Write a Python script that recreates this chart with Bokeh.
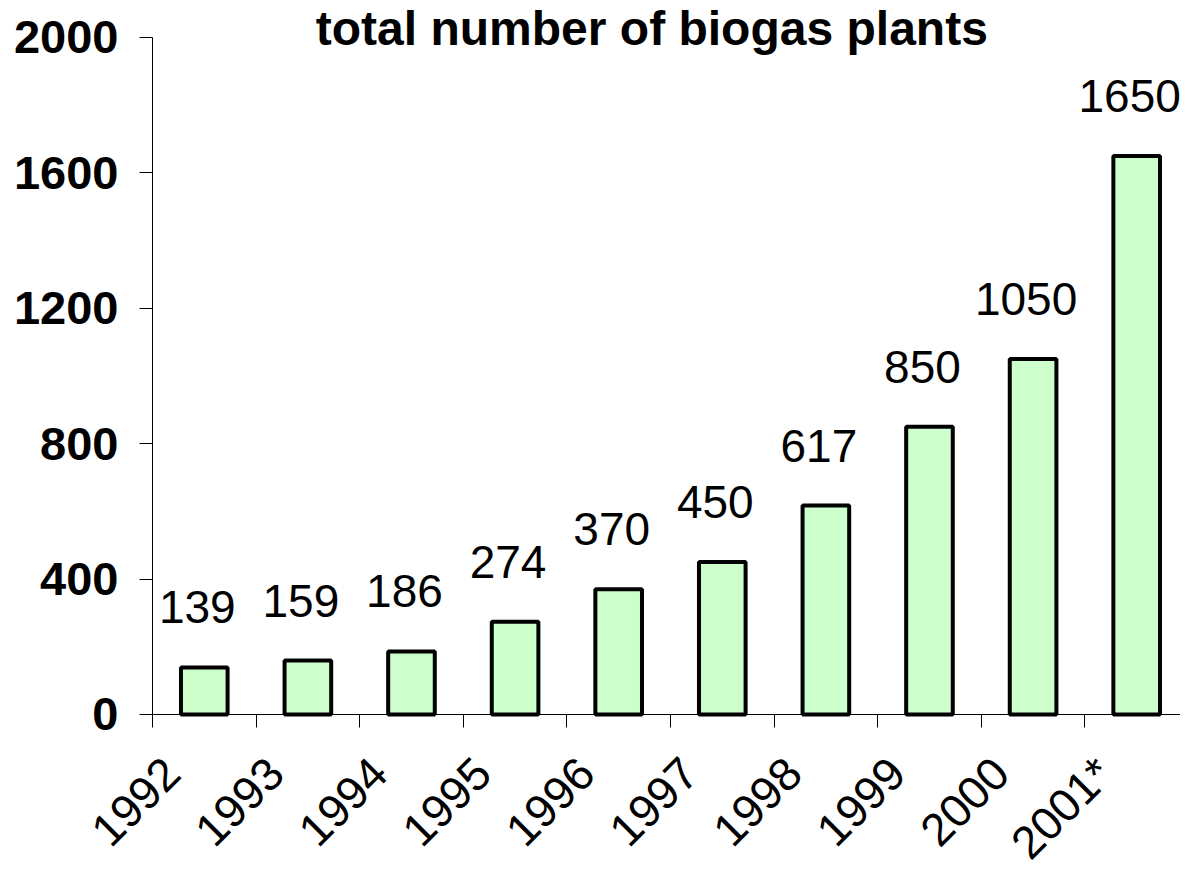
import numpy as np
from bokeh.plotting import figure
from bokeh.models import Range1d, FixedTicker, ColumnDataSource, LabelSet, Label
from bokeh.core.properties import value
from bokeh.embed import file_html
from bokeh.resources import INLINE

# ---- data ----
years = ["1992", "1993", "1994", "1995", "1996", "1997", "1998", "1999", "2000", "2001*"]
plants = [139, 159, 186, 274, 370, 450, 617, 850, 1050, 1650]
y_ticks = [0, 400, 800, 1200, 1600, 2000]
title_text = "total number of biogas plants"

FONT = "Liberation Sans"
n = len(years)
centers = [i + 0.5 for i in range(n)]
label_pos = [i + 0.1875 for i in range(n)]
boundaries = list(range(n + 1))

# the frame covers the whole canvas; both axes are drawn at data 0 inside it
p = figure(width=1180, height=870, output_backend="svg", toolbar_location=None,
           x_range=Range1d(-1.467, 9.923), y_range=Range1d(-461, 2109),
           min_border_left=0, min_border_right=0, min_border_top=0,
           min_border_bottom=0)
p.title.visible = False
p.outline_line_color = None
p.xgrid.visible = False
p.ygrid.visible = False
p.background_fill_color = "white"
p.border_fill_color = "white"

# x axis: ticks at category boundaries, labels rotated
xa = p.xaxis[0]
xa.ticker = FixedTicker(ticks=label_pos, minor_ticks=boundaries)
xa.major_label_overrides = {pos: yr for pos, yr in zip(label_pos, years)}
xa.major_label_orientation = np.pi / 4
xa.bounds = (0, n)
xa.major_tick_out = 0
xa.major_tick_in = 0
xa.major_tick_line_color = None
xa.minor_tick_out = 13
xa.minor_tick_in = 0
xa.minor_tick_line_color = "black"
xa.axis_line_color = "black"
xa.axis_line_width = 1
xa.fixed_location = 0
xa.major_label_standoff = 38
xa.major_label_text_font = FONT
xa.major_label_text_font_size = "46px"
xa.major_label_text_color = "black"

# y axis
ya = p.yaxis[0]
ya.ticker = FixedTicker(ticks=y_ticks)
ya.bounds = (0, y_ticks[-1])
ya.fixed_location = 0
ya.major_tick_out = 13
ya.major_tick_in = 0
ya.major_tick_line_color = "black"
ya.minor_tick_line_color = None
ya.axis_line_color = "black"
ya.major_label_standoff = 21
ya.major_label_text_font = FONT
ya.major_label_text_font_style = "bold"
ya.major_label_text_font_size = "47px"
ya.major_label_text_color = "black"

src = ColumnDataSource(dict(x=centers, top=plants, label=[str(v) for v in plants]))
p.vbar(x="x", top="top", bottom=0, width=0.45, source=src,
       fill_color="#CCFFCC", line_color="black", line_width=4)

labels = LabelSet(x="x", y="top", text="label", source=src, y_offset=44, x_offset=-7,
                  text_align="center", text_baseline="alphabetic",
                  text_font=value(FONT), text_font_size="46px", text_color="black")
p.add_layout(labels)

title = Label(x=4.82, y=2026, text=title_text, text_align="center",
              text_baseline="alphabetic", text_font=FONT, text_font_size="48px",
              text_font_style="bold", text_color="black")
p.add_layout(title)

open("out.html", "w").write(file_html(p, INLINE))
